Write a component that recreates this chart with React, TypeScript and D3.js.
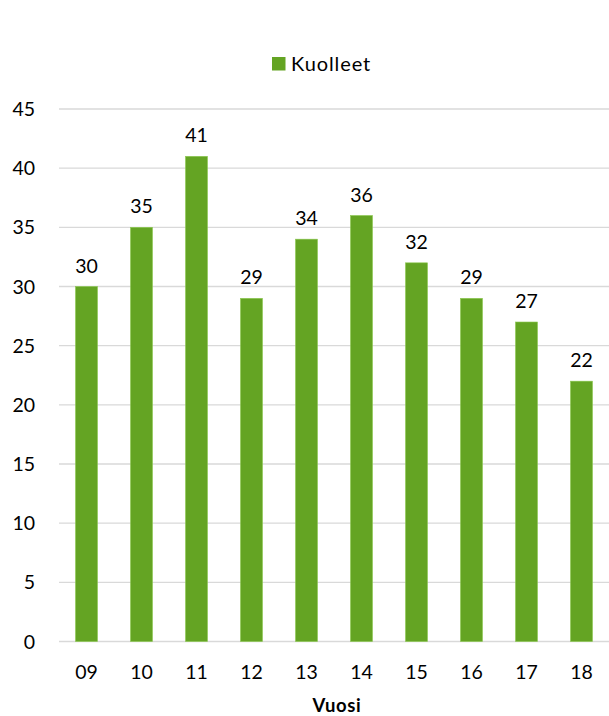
import React from "react";
import * as d3 from "d3";

const categories = ["09", "10", "11", "12", "13", "14", "15", "16", "17", "18"];
const values = [30, 35, 41, 29, 34, 36, 32, 29, 27, 22];
const yTicks = [0, 5, 10, 15, 20, 25, 30, 35, 40, 45];
const seriesName = "Kuolleet";
const axisTitle = "Vuosi";

const W = 609;
const H = 716;
const FONT = "Lato, 'Open Sans', sans-serif";
const GREEN = "#64A423";

export default function App() {
  const x = d3.scaleBand<string>().domain(categories).range([59, 609]).paddingInner(0.6).paddingOuter(0.3);
  const y = d3.scaleLinear().domain([0, 45]).range([641.5, 109]);

  return (
    <svg width={W} height={H} style={{ position: "absolute", left: 0, top: 0 }}>
      <rect width={W} height={H} fill="#fff" />
      {yTicks.map((t) => (
        <g key={t}>
          <line x1={59} x2={609} y1={y(t)} y2={y(t)} stroke="#d9d9d9" strokeWidth={1.3} />
          <text x={35} y={y(t) + 7} textAnchor="end" fontFamily={FONT} fontSize={19.5} fill="#000">
            {t}
          </text>
        </g>
      ))}
      {categories.map((c, i) => (
        <g key={c}>
          <rect
            x={x(c)}
            y={y(values[i])}
            width={x.bandwidth()}
            height={y(0) - y(values[i])}
            fill={GREEN}
            stroke="#8cc850"
            strokeWidth={0.6}
          />
          <text x={(x(c) as number) + x.bandwidth() / 2} y={y(values[i]) - 14} textAnchor="middle" fontFamily={FONT} fontSize={19.5} fill="#000">
            {values[i]}
          </text>
          <text x={(x(c) as number) + x.bandwidth() / 2} y={679} textAnchor="middle" fontFamily={FONT} fontSize={19.5} fill="#000">
            {c}
          </text>
        </g>
      ))}
      <text x={337} y={712} textAnchor="middle" fontFamily={FONT} fontSize={18.5} fontWeight="bold" letterSpacing={0.6} fill="#000">
        {axisTitle}
      </text>
      <rect x={272} y={57} width={13.5} height={13.5} fill={GREEN} />
      <text x={291} y={71} fontFamily={FONT} fontSize={20} letterSpacing={0.9} fill="#000">
        {seriesName}
      </text>
    </svg>
  );
}
